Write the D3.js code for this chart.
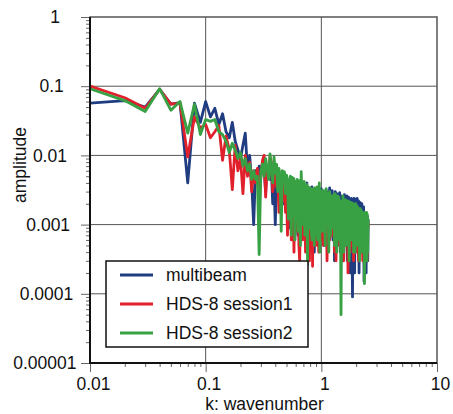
<!DOCTYPE html>
<meta charset="utf-8"/>
<style>
  body { margin: 0; background: #fff; }
  text { font-family: "Liberation Sans", Arial, sans-serif; fill: #111; }
</style>
<svg width="453" height="414"></svg>
<script src="https://d3js.org/d3.v7.min.js" charset="utf-8"></script>
<script>

// wavenumber grid (k), 0.01 steps up to 1, then 0.02 steps
var wavenumber = [
  0.01,0.02,0.03,0.04,0.05,0.06,0.07,0.08,0.09,0.10,
  0.11,0.12,0.13,0.14,0.15,0.16,0.17,0.18,0.19,0.20,
  0.21,0.22,0.23,0.24,0.25,0.26,0.27,0.28,0.29,0.30,
  0.31,0.32,0.33,0.34,0.35,0.36,0.37,0.38,0.39,0.40,
  0.41,0.42,0.43,0.44,0.45,0.46,0.47,0.48,0.49,0.50,
  0.51,0.52,0.53,0.54,0.55,0.56,0.57,0.58,0.59,0.60,
  0.61,0.62,0.63,0.64,0.65,0.66,0.67,0.68,0.69,0.70,
  0.71,0.72,0.73,0.74,0.75,0.76,0.77,0.78,0.79,0.80,
  0.81,0.82,0.83,0.84,0.85,0.86,0.87,0.88,0.89,0.90,
  0.91,0.92,0.93,0.94,0.95,0.96,0.97,0.98,0.99,1.00,
  1.02,1.04,1.06,1.08,1.10,1.12,1.14,1.16,1.18,1.20,
  1.22,1.24,1.26,1.28,1.30,1.32,1.34,1.36,1.38,1.40,
  1.42,1.44,1.46,1.48,1.50,1.52,1.54,1.56,1.58,1.60,
  1.62,1.64,1.66,1.68,1.70,1.72,1.74,1.76,1.78,1.80,
  1.82,1.84,1.86,1.88,1.90,1.92,1.94,1.96,1.98,2.00,
  2.02,2.04,2.06,2.08,2.10,2.12,2.14,2.16,2.18,2.20,
  2.22,2.24,2.26,2.28,2.30,2.32,2.34,2.36,2.38,2.40,
  2.42,2.44,2.46,2.48,2.50,2.52,2.54
]

var multibeam = [
  0.057,0.062,0.05,0.09,0.055,0.058,0.004,0.057,0.03,0.06,
  0.036,0.048,0.028,0.04,0.022,0.018,0.03,0.016,0.012,0.009,
  0.014,0.021,0.006,0.01,0.004,0.001,0.006,0.004,0.007,0.005,
  0.008,0.006,0.003,0.007,0.005,0.0045,0.006,0.002,0.004,0.001,
  0.005,0.0035,0.006,0.0025,0.004,0.005,0.002,0.0045,0.003,0.005,
  0.0025,0.004,0.0009,0.0045,0.003,0.0011,0.002,0.0042,0.0006,0.0035,
  0.0012,0.0038,0.0007,0.0042,0.0022,0.0035,0.0009,0.0032,0.004,0.0011,
  0.0033,0.0008,0.0036,0.0028,0.004,0.0005,0.0032,0.0012,0.0034,0.0012,
  0.003,0.0009,0.0035,0.0016,0.0028,0.0032,0.0004,0.0027,0.0033,0.001,
  0.003,0.0008,0.0034,0.0011,0.0029,0.0006,0.0031,0.0018,0.0028,0.0033,
  0.0009,0.003,0.0005,0.0027,0.0032,0.0008,0.0029,0.0012,0.0034,0.0007,
  0.0028,0.0031,0.0006,0.0026,0.0003,0.003,0.001,0.0028,0.0005,0.0027,
  0.0025,0.0029,0.0004,0.0026,0.0009,0.0003,0.0025,0.0008,0.0027,0.0005,
  0.0024,0.0007,0.0026,0.0003,0.0022,0.0025,0.0006,0.0023,0.0002,0.0021,
  0.0024,0.0006,0.00009,0.0022,0.0008,0.0024,0.0002,0.002,0.0023,0.0005,
  0.0021,0.0024,0.0004,0.0019,0.0022,0.0002,0.0018,0.0021,0.0006,0.0019,
  0.0016,0.002,0.0004,0.0017,0.0006,0.0018,0.00015,0.0015,0.0014,0.0005,
  0.0014,0.0002,0.0013,0.0005,0.0013,0.0003,0.0012
]

var session1 = [
  0.10,0.068,0.048,0.09,0.055,0.057,0.0095,0.036,0.025,0.028,
  0.018,0.022,0.027,0.0085,0.019,0.012,0.0032,0.014,0.006,0.009,
  0.0028,0.010,0.005,0.008,0.003,0.006,0.004,0.0065,0.002,0.005,
  0.0085,0.010,0.0025,0.007,0.0055,0.0095,0.008,0.003,0.0045,0.006,
  0.0035,0.005,0.0015,0.0045,0.003,0.0038,0.0022,0.004,0.0015,0.0033,
  0.0007,0.0035,0.0012,0.0038,0.0006,0.0032,0.0025,0.0004,0.003,0.0009,
  0.0033,0.0008,0.0029,0.0005,0.0003,0.003,0.0011,0.0027,0.0006,0.0028,
  0.0019,0.0026,0.0004,0.0025,0.0009,0.0028,0.0005,0.0024,0.0003,0.0022,
  0.0025,0.0007,0.0021,0.00025,0.0023,0.0008,0.0024,0.0005,0.0022,0.0005,
  0.0021,0.0006,0.0024,0.0009,0.0004,0.0022,0.002,0.0006,0.0023,0.0008,
  0.0021,0.0005,0.0022,0.0009,0.0023,0.0003,0.002,0.0021,0.0006,0.0022,
  0.0019,0.0007,0.0012,0.002,0.0004,0.0021,0.0003,0.0019,0.0009,0.0016,
  0.0021,0.0005,0.0019,0.0004,0.002,0.0009,0.0016,0.0003,0.0008,0.0018,
  0.0017,0.0006,0.0013,0.0018,0.0002,0.0017,0.0007,0.0012,0.0004,0.0018,
  0.0014,0.0005,0.0008,0.0016,0.0003,0.0011,0.0015,0.0006,0.0004,0.0015,
  0.0016,0.0005,0.0015,0.0007,0.0003,0.0015,0.0009,0.0014,0.0004,0.0013,
  0.0014,0.0006,0.0013,0.0003,0.0005,0.0013,0.0007,0.0009,0.0012,0.0004,
  0.0012,0.0005,0.0011,0.0003,0.0004,0.0011,0.0009
]

var session2 = [
  0.092,0.062,0.043,0.092,0.045,0.06,0.021,0.055,0.02,0.033,
  0.031,0.033,0.022,0.02,0.016,0.011,0.015,0.012,0.009,0.011,
  0.007,0.009,0.006,0.0075,0.0045,0.006,0.0045,0.005,0.00037,0.006,
  0.0075,0.005,0.009,0.0065,0.0045,0.0105,0.006,0.004,0.0095,0.0055,
  0.0075,0.003,0.0065,0.0045,0.0008,0.006,0.0048,0.0058,0.0028,0.0052,
  0.0045,0.0012,0.0025,0.005,0.0007,0.0048,0.0015,0.0046,0.0006,0.0042,
  0.0028,0.0045,0.0008,0.0012,0.0043,0.0005,0.0058,0.0026,0.001,0.0031,
  0.0042,0.0007,0.0036,0.0012,0.0038,0.00026,0.0035,0.001,0.0009,0.0034,
  0.0028,0.0008,0.0006,0.0033,0.0012,0.0031,0.0005,0.0034,0.0018,0.0007,
  0.0029,0.0035,0.0006,0.0031,0.001,0.004,0.0004,0.0032,0.0011,0.003,
  0.0008,0.0031,0.0019,0.0005,0.0033,0.0012,0.0028,0.0004,0.003,0.0007,
  0.0026,0.0009,0.0021,0.0027,0.0005,0.0028,0.001,0.0004,0.0026,0.0008,
  0.0025,0.0006,0.0022,0.00005,0.0021,0.0009,0.0026,0.0004,0.0023,0.0008,
  0.0023,0.0005,0.0022,0.001,0.0016,0.0022,0.0003,0.0021,0.0007,0.0015,
  0.0021,0.0006,0.0008,0.002,0.0004,0.0013,0.0019,0.0004,0.002,0.0007,
  0.0019,0.0005,0.0018,0.001,0.0006,0.0017,0.0003,0.0013,0.0017,0.0006,
  0.0016,0.0009,0.0004,0.0015,0.0007,0.0012,0.0015,0.00014,0.0011,0.0005,
  0.0013,0.0006,0.0015,0.0003,0.0014,0.0004,0.0012
]

var seriesNames  = ["multibeam", "HDS-8 session1", "HDS-8 session2"]
var seriesColors = ["#1f3d80", "#e0202b", "#38a144"]
var seriesData   = [multibeam, session1, session2]

var xMajor = [0.01, 0.1, 1, 10]
var xLabels = ["0.01", "0.1", "1", "10"]
var yMajor = [1e-5, 1e-4, 1e-3, 1e-2, 1e-1, 1]
var yLabels = ["0.00001", "0.0001", "0.001", "0.01", "0.1", "1"]

var svg = d3.select("svg")

var plotL = 90, plotR = 437, plotT = 17, plotB = 363

var x = d3.scaleLog().domain([0.01, 10]).range([plotL, plotR])
var y = d3.scaleLog().domain([1e-5, 1]).range([plotB, plotT])

// minor tick values (2..9 per decade)
function minors(lo, hi) {
  var out = []
  for (var d = lo; d < hi * 0.99; d *= 10)
    for (var m = 2; m <= 9; m++) out.push(d * m)
  return out
}

// grid
svg.append("g").selectAll("line")
  .data(xMajor.slice(1, -1)).enter().append("line")
    .attr("x1", d => x(d)).attr("x2", d => x(d))
    .attr("y1", plotT).attr("y2", plotB)
    .attr("stroke", "#555").attr("stroke-width", 1)
svg.append("g").selectAll("line")
  .data(yMajor.slice(1, -1)).enter().append("line")
    .attr("x1", plotL).attr("x2", plotR)
    .attr("y1", d => y(d)).attr("y2", d => y(d))
    .attr("stroke", "#555").attr("stroke-width", 1)

// series
var line = d3.line()
  .x((d, i) => x(wavenumber[i]))
  .y(d => y(d))

seriesData.forEach(function(s, i) {
  svg.append("path")
    .attr("d", line(s))
    .attr("fill", "none")
    .attr("stroke", seriesColors[i])
    .attr("stroke-width", 2.8)
    .attr("stroke-linejoin", "round")
})

// frame
svg.append("rect")
  .attr("x", plotL).attr("y", plotT)
  .attr("width", plotR - plotL).attr("height", plotB - plotT)
  .attr("fill", "none").attr("stroke", "#555").attr("stroke-width", 1.5)

// axes: minor ticks
var xMinorAxis = d3.axisBottom(x).tickValues(minors(0.01, 10)).tickSize(4).tickFormat("")
var yMinorAxis = d3.axisLeft(y).tickValues(minors(1e-5, 1)).tickSize(4).tickFormat("")
svg.append("g").attr("transform", "translate(0," + plotB + ")").call(xMinorAxis)
svg.append("g").attr("transform", "translate(" + plotL + ",0)").call(yMinorAxis)

// axes: major ticks + labels
var xAxis = d3.axisBottom(x).tickValues(xMajor).tickSize(9).tickPadding(6)
  .tickFormat((d, i) => xLabels[i])
var yAxis = d3.axisLeft(y).tickValues(yMajor).tickSize(9).tickPadding(6)
  .tickFormat((d, i) => yLabels[i])
var gx = svg.append("g").attr("transform", "translate(0," + plotB + ")").call(xAxis)
var gy = svg.append("g").attr("transform", "translate(" + plotL + ",0)").call(yAxis)

svg.selectAll(".domain").remove()
svg.selectAll(".tick line").attr("stroke", "#666").attr("stroke-width", 1)

gx.selectAll("text").style("font-size", "17.5px").attr("dx", 3)
gy.selectAll("text").style("font-size", "17.5px")
  .attr("text-anchor", "middle")
  .attr("x", (d, i) => -plotL + 55 - 1.7 * (yLabels[i].length - 1))

// axis lines (left / bottom darker)
svg.append("line").attr("x1", plotL).attr("x2", plotL).attr("y1", plotT).attr("y2", plotB + 1)
  .attr("stroke", "#111").attr("stroke-width", 2)
svg.append("line").attr("x1", plotL - 1).attr("x2", plotR).attr("y1", plotB).attr("y2", plotB)
  .attr("stroke", "#111").attr("stroke-width", 2)

// axis titles
svg.append("text")
  .attr("x", (plotL + plotR) / 2 + 1).attr("y", 410)
  .attr("text-anchor", "middle").style("font-size", "17.5px")
  .text("k: wavenumber")
svg.append("text")
  .attr("transform", "translate(26,165) rotate(-90)")
  .attr("text-anchor", "middle").style("font-size", "17.5px")
  .text("amplitude")

// legend
var lg = svg.append("g")
lg.append("rect")
  .attr("x", 106).attr("y", 261).attr("width", 202).attr("height", 86)
  .attr("fill", "#fff").attr("stroke", "#111").attr("stroke-width", 1.5)
seriesNames.forEach(function(name, i) {
  var yy = 275 + i * 29
  lg.append("line")
    .attr("x1", 120).attr("x2", 153).attr("y1", yy).attr("y2", yy)
    .attr("stroke", seriesColors[i]).attr("stroke-width", 3)
  lg.append("text")
    .attr("x", 166).attr("y", yy).attr("dy", "0.35em")
    .style("font-size", "17.5px")
    .text(name)
})

</script>
